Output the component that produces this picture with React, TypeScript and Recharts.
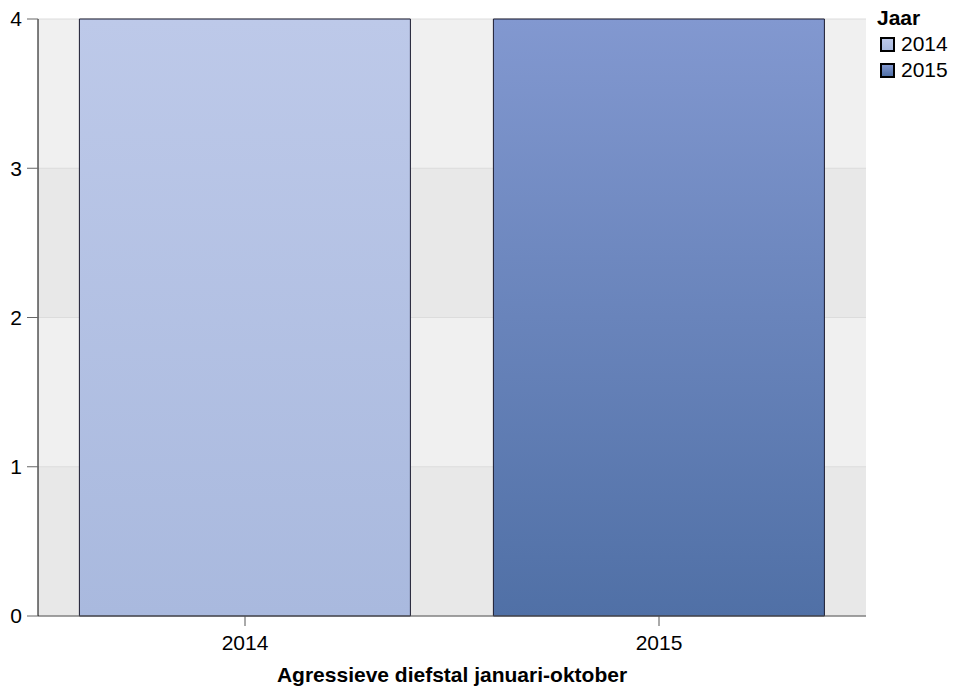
import React from 'react';
import { BarChart, Bar, XAxis, YAxis, CartesianGrid, Cell } from 'recharts';

const years = ['2014', '2015'];
const counts = [4, 4];
const yTicks = [0, 1, 2, 3, 4];

const gradients = [
  { id: 'g2014', top: '#bdc9e9', bottom: '#a9b9de' },
  { id: 'g2015', top: '#8298d0', bottom: '#5070a6' },
];

const data = years.map((year, i) => ({ year, value: counts[i] }));

const font = '"Liberation Sans", Arial, sans-serif';

function LegendBox() {
  return (
    <div
      style={{
        position: 'absolute',
        left: 877,
        top: 5,
        fontFamily: font,
        fontSize: 21,
        color: '#000',
        lineHeight: '26px',
      }}
    >
      <div style={{ fontWeight: 'bold' }}>Jaar</div>
      {years.map((y, i) => (
        <div key={y} style={{ display: 'flex', alignItems: 'center' }}>
          <span
            style={{
              display: 'inline-block',
              boxSizing: 'border-box',
              width: 15,
              height: 15,
              border: '2px solid #000',
              background: `linear-gradient(${gradients[i].top}, ${gradients[i].bottom})`,
              marginRight: 6,
              marginLeft: 3,
            }}
          />
          <span>{y}</span>
        </div>
      ))}
    </div>
  );
}

export default function App() {
  return (
    <div style={{ position: 'absolute', left: 0, top: 0, width: 963, height: 686, background: '#fff' }}>
      <BarChart
        width={963}
        height={686}
        data={data}
        margin={{ top: 19, right: 97, left: 0, bottom: 0 }}
        barCategoryGap="10%"
      >
        <defs>
          {gradients.map((g) => (
            <linearGradient key={g.id} id={g.id} x1="0" y1="0" x2="0" y2="1">
              <stop offset="0%" stopColor={g.top} />
              <stop offset="100%" stopColor={g.bottom} />
            </linearGradient>
          ))}
        </defs>
        <CartesianGrid
          vertical={false}
          stroke="#dcdcdc"
          horizontalFill={['#f0f0f0', '#e8e8e8']}
        />
        <XAxis
          dataKey="year"
          height={70}
          axisLine={{ stroke: '#555' }}
          tickLine={{ stroke: '#555' }}
          tickSize={10}
          tickMargin={9}
          tick={{ fill: '#000', fontSize: 21, fontFamily: font }}
          label={{
            value: 'Agressieve diefstal januari-oktober',
            position: 'insideBottom',
            offset: 4,
            fill: '#000',
            fontSize: 21,
            fontWeight: 'bold',
            fontFamily: font,
          }}
        />
        <YAxis
          width={38}
          domain={[0, 4]}
          ticks={yTicks}
          interval={0}
          axisLine={{ stroke: '#000' }}
          tickLine={{ stroke: '#666' }}
          tickSize={11}
          tickMargin={5}
          tick={{ fill: '#000', fontSize: 21, fontFamily: font }}
        />
        <Bar dataKey="value" stroke="#1a1a2e" strokeWidth={1} isAnimationActive={false}>
          {data.map((d, i) => (
            <Cell key={d.year} fill={`url(#${gradients[i].id})`} />
          ))}
        </Bar>
      </BarChart>
      <LegendBox />
    </div>
  );
}
